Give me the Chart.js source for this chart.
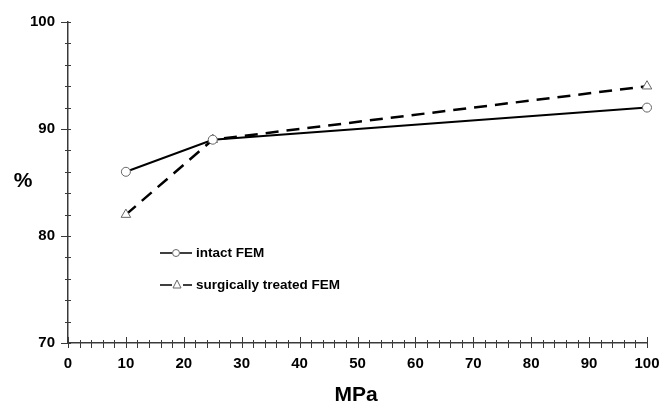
<!DOCTYPE html>
<html>
<head>
<meta charset="utf-8">
<script src="https://cdn.jsdelivr.net/npm/chart.js@4"></script>
<style>
  html, body { margin: 0; padding: 0; background: #fff; }
  #wrap { width: 672px; height: 409px; position: relative; }
</style>
</head>
<body>
<div id="wrap"><canvas id="femChart"></canvas></div>
<script>
const pressure = [10, 25, 100];
const intactFem = [86, 89, 92];
const treatedFem = [82, 89, 94];
const xTicks = [0, 10, 20, 30, 40, 50, 60, 70, 80, 90, 100];
const yTicks = [70, 80, 90, 100];

const axisColor = '#3a3a3a';
const font = 'Liberation Sans, Arial, sans-serif';

// minor/major ticks, axis titles and the in-plot legend
const decorations = {
    id: 'decorations',
    afterDraw(chart) {
        const c = chart.ctx;
        const x = chart.scales.x, y = chart.scales.y;
        const left = chart.chartArea.left, bottom = chart.chartArea.bottom;
        c.save();
        c.strokeStyle = axisColor;
        c.lineWidth = 1;
        for (let v = 0; v <= 100; v += 2) {
            const px = Math.round(x.getPixelForValue(v)) + 0.5;
            const major = v % 10 === 0;
            c.beginPath();
            c.moveTo(px, bottom - (major ? 6 : 3));
            c.lineTo(px, bottom + 5);
            c.stroke();
        }
        for (let v = 70; v <= 100; v += 2) {
            const py = Math.round(y.getPixelForValue(v)) + 0.5;
            const major = v % 10 === 0;
            c.beginPath();
            c.moveTo(left - (major ? 7 : 3), py);
            c.lineTo(left + 3, py);
            c.stroke();
        }

        c.fillStyle = '#000';
        c.font = 'bold 21px ' + font;
        c.textAlign = 'center';
        c.textBaseline = 'middle';
        c.fillText('%', 23, 181);
        c.fillText('MPa', 356, 395);

        // legend
        c.lineWidth = 1.3;
        c.strokeStyle = '#000';
        c.beginPath(); c.moveTo(160, 253); c.lineTo(172, 253); c.moveTo(180, 253); c.lineTo(192, 253); c.stroke();
        c.lineWidth = 1;
        c.strokeStyle = '#666';
        c.fillStyle = '#fff';
        c.beginPath(); c.arc(176, 253, 3.5, 0, Math.PI * 2); c.fill(); c.stroke();

        c.lineWidth = 1.3;
        c.strokeStyle = '#000';
        c.beginPath(); c.moveTo(160, 285); c.lineTo(172, 285); c.moveTo(183, 285); c.lineTo(192, 285); c.stroke();
        c.lineWidth = 1;
        c.strokeStyle = '#666';
        c.beginPath(); c.moveTo(177, 280); c.lineTo(181, 288); c.lineTo(173, 288); c.closePath(); c.fill(); c.stroke();

        c.fillStyle = '#000';
        c.font = 'bold 13.5px ' + font;
        c.textAlign = 'left';
        c.fillText('intact FEM', 196, 253);
        c.fillText('surgically treated FEM', 196, 285);
        c.restore();
    }
};

let ctx = document.getElementById('femChart').getContext('2d');
let femChart = new Chart(ctx, {
    type: 'scatter',
    data: {
        datasets: [{
            label: 'intact FEM',
            data: pressure.map((p, i) => ({ x: p, y: intactFem[i] })),
            showLine: true,
            clip: false,
            borderColor: '#000',
            borderWidth: 2,
            pointStyle: 'circle',
            pointRadius: 4.5,
            pointBackgroundColor: '#fff',
            pointBorderColor: '#666',
            pointBorderWidth: 1
        }, {
            label: 'surgically treated FEM',
            data: pressure.map((p, i) => ({ x: p, y: treatedFem[i] })),
            showLine: true,
            clip: false,
            borderColor: '#000',
            borderWidth: 2.5,
            borderDash: [13, 8],
            pointStyle: 'triangle',
            pointRadius: 5.5,
            pointBackgroundColor: '#fff',
            pointBorderColor: '#666',
            pointBorderWidth: 1
        }]
    },
    options: {
        responsive: true,
        maintainAspectRatio: false,
        animation: false,
        layout: { padding: { top: 21, right: 25, left: 0, bottom: 0 } },
        plugins: { legend: { display: false }, tooltip: { enabled: false } },
        scales: {
            x: {
                type: 'linear',
                min: 0,
                max: 100,
                afterBuildTicks: s => { s.ticks = xTicks.map(v => ({ value: v })); },
                afterFit: s => { s.height = 66; },
                grid: { display: false, drawTicks: false },
                border: { color: axisColor, width: 1.5 },
                ticks: { padding: 12, color: '#000', font: { family: font, size: 15, weight: 'bold' } }
            },
            y: {
                min: 70,
                max: 100,
                afterBuildTicks: s => { s.ticks = yTicks.map(v => ({ value: v })); },
                afterFit: s => { s.width = 68; },
                grid: { display: false, drawTicks: false },
                border: { color: axisColor, width: 1.5 },
                ticks: { padding: 13, color: '#000', font: { family: font, size: 15, weight: 'bold' } }
            }
        }
    },
    plugins: [decorations]
});
</script>
</body>
</html>
